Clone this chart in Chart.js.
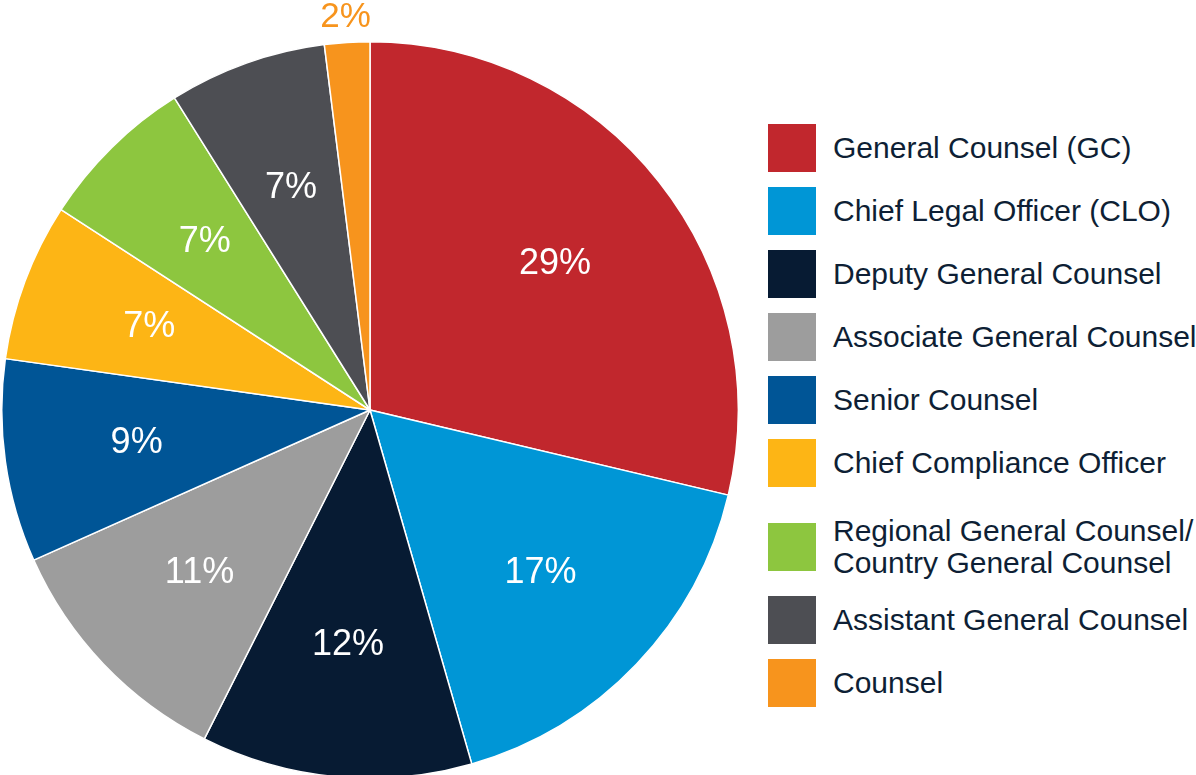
<!DOCTYPE html>
<html>
<head>
<meta charset="utf-8">
<script src="https://cdn.jsdelivr.net/npm/chart.js@4.4.1/dist/chart.umd.min.js"></script>
<style>
  html, body { margin: 0; padding: 0; background: #fff; width: 1196px; height: 775px; overflow: hidden; }
  body { position: relative; font-family: "Liberation Sans", Arial, sans-serif; }
  #pie { position: absolute; left: 0; top: 0; }
  #legend { position: absolute; left: 768px; top: 124px; list-style: none; margin: 0; padding: 0; }
  #legend li { display: flex; align-items: center; min-height: 48px; margin-bottom: 15px; }
  #legend li.two { margin-top: 28px; margin-bottom: 17px; }
  #legend .box { width: 48px; height: 48px; flex: none; margin-right: 17px; }
  #legend .txt { font-size: 30px; line-height: 32px; color: #0e1f35; white-space: nowrap; }
</style>
</head>
<body>
<canvas id="pie" width="740" height="780"></canvas>
<ul id="legend"></ul>
<script>
// roles and share of respondents (%)
const roles = [
  'General Counsel (GC)',
  'Chief Legal Officer (CLO)',
  'Deputy General Counsel',
  'Associate General Counsel',
  'Senior Counsel',
  'Chief Compliance Officer',
  ['Regional General Counsel/', 'Country General Counsel'],
  'Assistant General Counsel',
  'Counsel'
];
const shares = [29, 17, 12, 11, 9, 7, 7, 7, 2];
const colours = ['#c1272d', '#0096d6', '#071b33', '#9d9d9d', '#005596', '#fdb515', '#8dc63f', '#4d4e53', '#f7941d'];

// legend on the right, made from the same arrays
const ul = document.getElementById('legend');
roles.forEach((r, i) => {
  const li = document.createElement('li');
  const lines = Array.isArray(r) ? r : [r];
  if (lines.length > 1) li.className = 'two';
  li.innerHTML = '<span class="box" style="background:' + colours[i] + '"></span>' +
    '<span class="txt">' + lines.join('<br>') + '</span>';
  ul.appendChild(li);
});

const pctLabels = {
  id: 'pctLabels',
  afterDatasetsDraw(chart) {
    const ctx = chart.ctx;
    const meta = chart.getDatasetMeta(0);
    ctx.save();
    ctx.textAlign = 'center';
    ctx.textBaseline = 'middle';
    meta.data.forEach((arc, i) => {
      const v = shares[i];
      const mid = (arc.startAngle + arc.endAngle) / 2;
      let r, col;
      if (v < 5) {
        r = arc.outerRadius + 25;
        col = colours[i];
        ctx.font = '35px "Liberation Sans", Arial, sans-serif';
      } else {
        r = arc.outerRadius * 0.64;
        col = '#fff';
        ctx.font = '36px "Liberation Sans", Arial, sans-serif';
      }
      ctx.fillStyle = col;
      ctx.fillText(v + '%', arc.x + Math.cos(mid) * r, arc.y + Math.sin(mid) * r);
    });
    ctx.restore();
  }
};

new Chart(document.getElementById('pie').getContext('2d'), {
  type: 'pie',
  data: {
    labels: roles.map(r => Array.isArray(r) ? r.join(' ') : r),
    datasets: [{
      data: shares,
      backgroundColor: colours,
      borderColor: '#fff',
      borderWidth: 1.5
    }]
  },
  options: {
    responsive: false,
    devicePixelRatio: 1,
    animation: false,
    layout: { padding: { top: 41, bottom: 1, left: 1, right: 1 } },
    plugins: {
      legend: { display: false },
      tooltip: { enabled: false }
    }
  },
  plugins: [pctLabels]
});
</script>
</body>
</html>
